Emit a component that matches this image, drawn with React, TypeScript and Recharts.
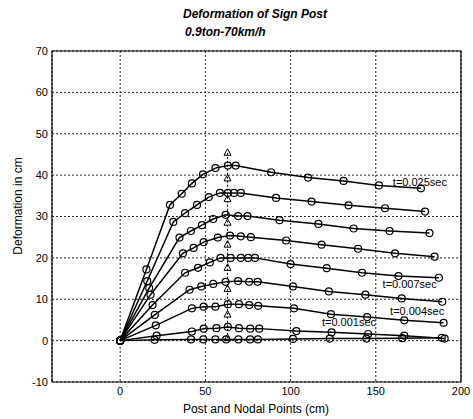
import {
  LineChart,
  Line,
  XAxis,
  YAxis,
  CartesianGrid,
  ReferenceArea,
  ReferenceDot,
} from 'recharts';

// axis ticks
const xTicks = [0, 50, 100, 150, 200];
const yTicks = [-10, 0, 10, 20, 30, 40, 50, 60, 70];

// deformed post shape at each time step: [nodal position (cm), deformation (cm)]
const step1 = [
  [0, 0], [20.2, 0.2], [41.6, 0.3], [48.8, 0.3], [55.9, 0.3], [62.2, 0.3], [69.4, 0.3],
  [76.3, 0.3], [80.8, 0.3], [101.4, 0.4], [123.0, 0.5], [144.5, 0.5], [165.5, 0.6], [188.7, 0.7],
];
const step2 = [
  [0, 0], [21.4, 1.2], [42.1, 2.2], [49.0, 2.9], [56.5, 3.0], [63.2, 3.3], [69.7, 3.0],
  [76.3, 2.9], [81.6, 2.9], [103.4, 2.3], [124.1, 2.0], [145.5, 1.6], [166.7, 1.2], [190.4, 0.5],
];
const step3 = [
  [0, 0], [20.9, 3.7], [42.1, 7.8], [49.0, 8.2], [55.9, 8.2], [63.2, 8.8], [69.7, 8.8],
  [75.7, 8.6], [81.0, 8.4], [102.0, 7.8], [123.7, 6.4], [144.9, 5.7], [166.7, 4.9], [189.8, 4.3],
];
const step4 = [
  [0, 0], [20.3, 6.2], [40.7, 12.3], [47.6, 13.1], [54.6, 13.7], [61.9, 14.2], [69.2, 14.4],
  [75.7, 14.2], [80.7, 14.2], [101.4, 13.1], [122.5, 11.9], [143.9, 11.1], [165.2, 10.2], [189.0, 9.4],
];
const step5 = [
  [0, 0], [19.0, 8.6], [38.1, 16.4], [45.7, 17.6], [52.6, 18.9], [58.9, 20.0], [64.8, 20.0],
  [70.8, 20.0], [75.1, 20.0], [79.1, 20.0], [100.0, 18.5], [121.2, 17.5], [141.9, 16.4],
  [163.3, 15.6], [187.0, 15.2],
];
const step6 = [
  [0, 0], [17.8, 11.1], [36.8, 21.1], [43.1, 22.4], [49.0, 23.8], [57.3, 24.9], [64.4, 25.4],
  [70.8, 25.2], [76.7, 25.0], [97.4, 24.2], [118.2, 23.2], [139.6, 22.2], [161.3, 21.1], [184.5, 20.3],
];
const step7 = [
  [0, 0], [17.0, 12.7], [34.8, 24.9], [41.5, 26.5], [48.0, 27.9], [54.6, 29.4], [61.9, 30.4],
  [69.2, 30.1], [74.7, 30.1], [93.5, 29.1], [116.3, 28.2], [137.0, 27.1], [158.1, 26.5], [181.5, 26.0],
];
const step8 = [
  [0, 0], [15.9, 14.4], [31.2, 28.7], [38.1, 30.8], [45.1, 32.8], [52.0, 34.7], [58.5, 35.7],
  [63.2, 35.7], [66.8, 35.7], [70.8, 35.7], [91.5, 34.5], [112.3, 33.6], [134.0, 32.7],
  [155.4, 32.0], [178.9, 31.2],
];
const step9 = [
  [0, 0], [15.4, 17.2], [29.2, 32.8], [36.1, 35.5], [42.1, 38.0], [48.6, 40.2], [55.9, 41.7],
  [63.2, 42.3], [67.8, 42.3], [88.6, 40.7], [110.3, 39.4], [131.1, 38.6], [151.8, 37.5], [176.5, 36.8],
];

// impact node (triangles)
const impactX = [63, 63, 63, 63, 63, 63, 63, 63, 63];
const impactY = [45.4, 39.2, 34.2, 28.5, 23.2, 17.6, 12.5, 6.3, 0.6];

// time annotations (placed in data units)
const timeText = ['t=0.025sec', 't=0.007sec', 't=0.004sec', 't=0.001sec'];
const timeX = [160, 154, 158.4, 118.4];
const timeY = [38.3, 13.6, 7.1, 4.5];

const steps = [step1, step2, step3, step4, step5, step6, step7, step8, step9];
const toPoints = (pairs: number[][]) => pairs.map(([x, y]) => ({ x, y }));
const impact = impactX.map((x, i) => ({ x, y: impactY[i] }));

const FONT = '"Liberation Sans", Arial, sans-serif';

function Triangle(props: any) {
  const { cx, cy, index } = props;
  if (cx == null || cy == null) return null;
  return (
    <path
      key={`tri-${index}`}
      d={`M${cx},${cy - 4} L${cx + 3.5},${cy + 2.5} L${cx - 3.5},${cy + 2.5} Z`}
      fill="none"
      stroke="#000"
      strokeWidth={1}
    />
  );
}

export default function App() {
  return (
    <div style={{ position: 'fixed', left: 0, top: 0, width: 473, height: 419, background: '#fff', fontFamily: FONT }}>
      <div style={{ position: 'absolute', left: 183, top: 7, fontSize: 12, fontWeight: 700, fontStyle: 'italic', whiteSpace: 'nowrap' }}>
        Deformation of Sign Post
      </div>
      <div style={{ position: 'absolute', left: 185, top: 25, fontSize: 12, fontWeight: 700, fontStyle: 'italic', whiteSpace: 'nowrap' }}>
        0.9ton-70km/h
      </div>
      <div
        style={{
          position: 'absolute',
          left: 18,
          top: 206,
          fontSize: 12,
          whiteSpace: 'nowrap',
          transform: 'translate(-50%, -50%) rotate(-90deg)',
        }}
      >
        Deformation in cm
      </div>
      <div style={{ position: 'absolute', left: 256, top: 409, fontSize: 12, whiteSpace: 'nowrap', transform: 'translate(-50%, -50%)' }}>
        Post and Nodal Points (cm)
      </div>

      <LineChart width={473} height={419} margin={{ top: 51, right: 12, bottom: 0, left: 0 }}>
        <CartesianGrid stroke="#222" strokeDasharray="2 2" strokeWidth={1} />
        <XAxis
          type="number"
          dataKey="x"
          domain={[-40, 200]}
          ticks={xTicks}
          allowDataOverflow
          height={37}
          axisLine={false}
          tickLine={false}
          tickSize={5}
          tickMargin={0}
          tick={{ fontSize: 11, fill: '#000', fontFamily: FONT }}
        />
        <YAxis
          type="number"
          domain={[-10, 70]}
          ticks={yTicks}
          allowDataOverflow
          width={52}
          axisLine={false}
          tickLine={false}
          tickSize={4}
          tickMargin={0}
          tick={{ fontSize: 11, fill: '#000', fontFamily: FONT }}
        />
        <ReferenceArea x1={-40} x2={200} y1={-10} y2={70} fill="none" stroke="#000" strokeWidth={1.2} />

        {steps.map((s, i) => (
          <Line
            key={`step-${i}`}
            data={toPoints(s)}
            dataKey="y"
            type="linear"
            stroke="#000"
            strokeWidth={1.5}
            dot={{ r: 3.5, fill: 'none', stroke: '#000', strokeWidth: 1.2 }}
            activeDot={false}
            isAnimationActive={false}
          />
        ))}
        <Line
          data={impact}
          dataKey="y"
          type="linear"
          stroke="#000"
          strokeWidth={1}
          strokeDasharray="2 2"
          dot={<Triangle />}
          activeDot={false}
          isAnimationActive={false}
        />

        {timeText.map((t, i) => (
          <ReferenceDot
            key={t}
            x={timeX[i]}
            y={timeY[i]}
            r={0}
            stroke="none"
            fill="none"
            label={{ value: t, position: 'right', offset: 0, fontSize: 11, fill: '#000', fontFamily: FONT }}
          />
        ))}
      </LineChart>
    </div>
  );
}
